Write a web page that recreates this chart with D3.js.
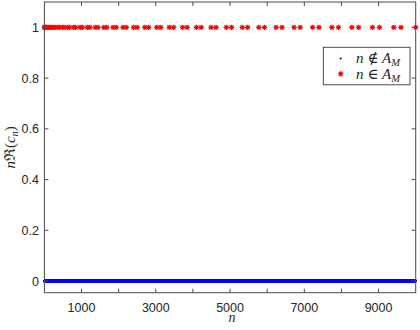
<!DOCTYPE html>
<html>
<head>
<meta charset="utf-8">
<script src="https://cdn.jsdelivr.net/npm/d3@7"></script>
<style>
  body { margin: 0; background: #fff; }
  svg { display: block; }
  .tick-label { font-family: 'Liberation Sans', Arial, sans-serif; font-size: 12.5px; fill: #262626; }
  .math { font-family: 'Liberation Serif', 'DejaVu Serif', serif; font-size: 15px; fill: #262626; }
</style>
</head>
<body>
<div id="chart"></div>
<script>
// n values in A_M (pairs around the squares)
const inSet = [
  1, 3, 16, 24, 49, 63, 100, 120, 169, 195, 256, 288, 361, 399, 484, 528,
  625, 675, 784, 840, 961, 1023, 1156, 1224, 1369, 1443, 1600, 1680,
  1849, 1935, 2116, 2208, 2401, 2499, 2704, 2808, 3025, 3135, 3364, 3480,
  3721, 3843, 4096, 4224, 4489, 4623, 4900, 5040, 5329, 5475, 5776, 5928,
  6241, 6399, 6724, 6888, 7225, 7395, 7744, 7920, 8281, 8463, 8836, 9024,
  9409, 9603, 10000
]
const nMax = 10000
const xTicks = [1000, 2000, 3000, 4000, 5000, 6000, 7000, 8000, 9000]
const xTickLabels = ['1000', '', '3000', '', '5000', '', '7000', '', '9000']
const yTicks = [0, 0.2, 0.4, 0.6, 0.8, 1]
const yTickLabels = ['0', '0.2', '0.4', '0.6', '0.8', '1']

// every other n up to nMax sits at zero
const setLookup = new Set(inSet)
const notInSet = d3.range(1, nMax + 1).filter(n => !setLookup.has(n))

const width = 420
const height = 330
const box = { left: 44.4, right: 415.7, top: 2, bottom: 292.7 }
const axisColor = '#4a4a4a'

const svg = d3.select('#chart')
  .append('svg')
  .attr('width', width)
  .attr('height', height)

const x = d3.scaleLinear().domain([0, nMax]).range([box.left, box.right])
const y = d3.scaleLinear().domain([-0.046, 1.1]).range([box.bottom, box.top])

/**
 * Draws an asterisk marker (MATLAB '*').
 */
function star (g, cx, cy, r, color) {
  const d = r * 0.72
  const p = `M${cx - r},${cy}H${cx + r}M${cx},${cy - r}V${cy + r}` +
    `M${cx - d},${cy - d}L${cx + d},${cy + d}M${cx - d},${cy + d}L${cx + d},${cy - d}`
  g.append('path')
    .attr('d', p)
    .attr('stroke', color)
    .attr('stroke-width', 1.1)
    .attr('fill', 'none')
}

// blue points
svg.append('g')
  .selectAll('circle')
  .data(notInSet)
  .join('circle')
  .attr('cx', d => x(d))
  .attr('cy', y(0))
  .attr('r', 1.3)
  .attr('fill', '#0000ff')

// red stars
const stars = svg.append('g')
inSet.forEach(n => star(stars, x(n), y(1), 2.7, '#ff0000'))

// axes box and ticks
const frame = svg.append('g')
frame.append('rect')
  .attr('x', box.left)
  .attr('y', box.top)
  .attr('width', box.right - box.left)
  .attr('height', box.bottom - box.top)
  .attr('fill', 'none')
  .attr('stroke', axisColor)
  .attr('stroke-width', 1)

const tickLen = 4
xTicks.forEach((t, i) => {
  frame.append('line')
    .attr('x1', x(t)).attr('x2', x(t))
    .attr('y1', box.bottom).attr('y2', box.bottom - tickLen)
    .attr('stroke', axisColor)
  frame.append('line')
    .attr('x1', x(t)).attr('x2', x(t))
    .attr('y1', box.top).attr('y2', box.top + tickLen)
    .attr('stroke', axisColor)
  frame.append('text')
    .attr('class', 'tick-label')
    .attr('x', x(t))
    .attr('y', 312)
    .attr('text-anchor', 'middle')
    .text(xTickLabels[i])
})

yTicks.forEach((t, i) => {
  frame.append('line')
    .attr('x1', box.left).attr('x2', box.left + tickLen)
    .attr('y1', y(t)).attr('y2', y(t))
    .attr('stroke', axisColor)
  frame.append('line')
    .attr('x1', box.right).attr('x2', box.right - tickLen)
    .attr('y1', y(t)).attr('y2', y(t))
    .attr('stroke', axisColor)
  frame.append('text')
    .attr('class', 'tick-label')
    .attr('x', 39)
    .attr('y', y(t) + 4.5)
    .attr('text-anchor', 'end')
    .text(yTickLabels[i])
})

// axis labels
svg.append('text')
  .attr('class', 'math')
  .attr('x', (box.left + box.right) / 2 + 2)
  .attr('y', 322)
  .attr('text-anchor', 'middle')
  .style('font-size', '14px')
  .style('font-style', 'italic')
  .text('n')

const ylab = svg.append('text')
  .attr('class', 'math')
  .attr('text-anchor', 'middle')
  .attr('transform', `translate(15,${(box.top + box.bottom) / 2}) rotate(-90)`)
ylab.append('tspan').style('font-style', 'italic').text('n')
ylab.append('tspan').text('ℜ(')
ylab.append('tspan').style('font-style', 'italic').text('c')
ylab.append('tspan').style('font-style', 'italic').style('font-size', '10.5px').attr('dy', 3).text('n')
ylab.append('tspan').attr('dy', -3).text(')')

// legend
const legend = svg.append('g')
legend.append('rect')
  .attr('x', 323.3)
  .attr('y', 47.3)
  .attr('width', 86.7)
  .attr('height', 37.5)
  .attr('fill', '#fff')
  .attr('stroke', axisColor)
  .attr('stroke-width', 1)

legend.append('circle')
  .attr('cx', 340.7)
  .attr('cy', 58.5)
  .attr('r', 1.1)
  .attr('fill', '#0000ff')
star(legend, 340.7, 73.8, 2.7, '#ff0000')

const items = [{ rel: '∉', y: 63 }, { rel: '∈', y: 78.5 }]
items.forEach(item => {
  const t = legend.append('text')
    .attr('class', 'math')
    .attr('x', 356)
    .attr('y', item.y)
  t.append('tspan').style('font-style', 'italic').text('n')
  t.append('tspan').text(' ' + item.rel + ' ')
  t.append('tspan').style('font-style', 'italic').text('A')
  t.append('tspan').style('font-style', 'italic').style('font-size', '10.5px').attr('dy', 3).text('M')
})
</script>
</body>
</html>
